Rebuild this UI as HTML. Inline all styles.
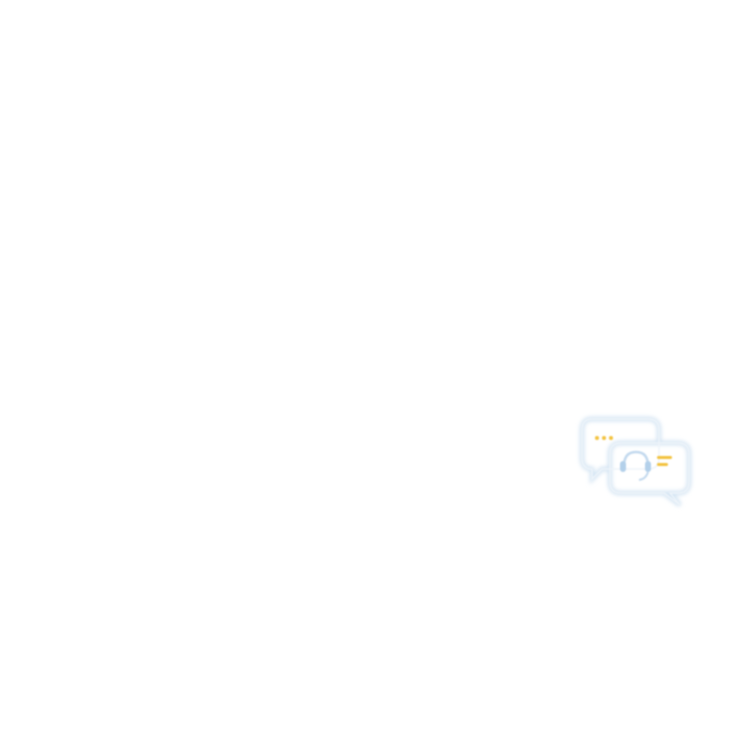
<!DOCTYPE html>
<html><head><style>html,body{margin:0;background:#fff;width:750px;height:750px;overflow:hidden}</style></head>
<body>
<svg width="750" height="750" viewBox="0 0 750 750" xmlns="http://www.w3.org/2000/svg">
<defs><filter id="g" x="-20%" y="-20%" width="140%" height="140%"><feGaussianBlur stdDeviation="2"/></filter>
<filter id="s"><feGaussianBlur stdDeviation="0.7"/></filter></defs>
<g filter="url(#g)" fill="none" stroke="#d3e4f3" stroke-width="4.5">
<path d="M592 419 H648 Q659 419 659 430 V458 Q659 469 648 469 H602 L592 479 V469 Q582 469 582 458 V430 Q582 419 592 419 Z"/>
<path d="M621 443 H678 Q689 443 689 454 V482 Q689 493 678 493 H670 L680 505 L664 493 H621 Q610 493 610 482 V454 Q610 443 621 443 Z" fill="#fff"/>
</g>
<g filter="url(#s)" fill="none" stroke="#eef4fa" stroke-width="1.5">
<path d="M592 419 H648 Q659 419 659 430 V458 Q659 469 648 469 H602 L592 479 V469 Q582 469 582 458 V430 Q582 419 592 419 Z"/>
<path d="M621 443 H678 Q689 443 689 454 V482 Q689 493 678 493 H670 L680 505 L664 493 H621 Q610 493 610 482 V454 Q610 443 621 443 Z"/>
</g>
<g filter="url(#s)">
<circle cx="597" cy="438" r="2" fill="#f3c23c"/><circle cx="604" cy="438" r="2" fill="#f3c23c"/><circle cx="611" cy="438" r="2" fill="#f3c23c"/>
<rect x="657" y="456" width="15" height="3" rx="1.5" fill="#f3c23c"/><rect x="657" y="463" width="11" height="3" rx="1.5" fill="#f3c23c"/>
<path d="M624 466 Q624 452 636 452 Q648 452 648 466" fill="none" stroke="#c2d9ee" stroke-width="2.5"/>
<rect x="620" y="461" width="6" height="11" rx="3" fill="#b3d0ea"/>
<rect x="645" y="461" width="6" height="11" rx="3" fill="#b3d0ea"/>
<path d="M648 472 Q646 479 639 480" fill="none" stroke="#c2d9ee" stroke-width="2"/>
</g>
</svg>
</body></html>
